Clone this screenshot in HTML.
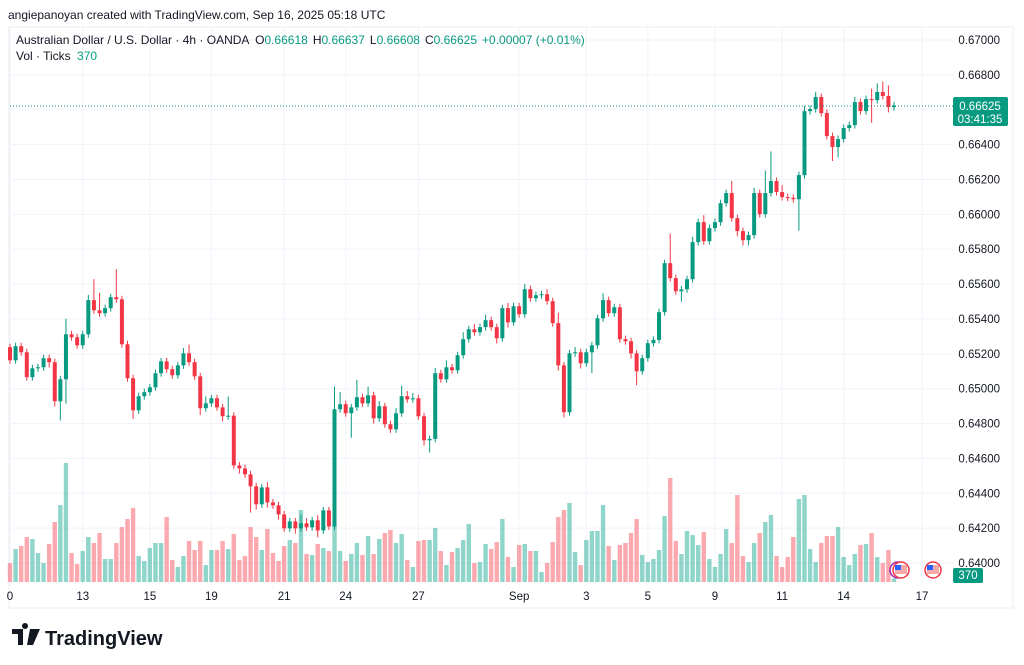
<!DOCTYPE html>
<html><head><meta charset="utf-8">
<style>
body{margin:0;background:#fff;width:1024px;height:665px;overflow:hidden;font-family:"Liberation Sans",sans-serif;}
svg{display:block}
text{font-family:"Liberation Sans",sans-serif}
</style></head>
<body>
<svg id="chart" width="1024" height="665" viewBox="0 0 1024 665">
  <text x="8" y="19" font-size="12" fill="#131722">angiepanoyan created with TradingView.com, Sep 16, 2025 05:18 UTC</text>
  <rect x="9" y="27" width="1004" height="581" fill="none" stroke="#e9ecf2" stroke-width="1"/>
  <g id="grid"></g>
  <g id="vol"></g>
  <g id="candles"></g>
  <line x1="10" x2="953" y1="106" y2="106" stroke="#089981" stroke-dasharray="1,2" stroke-width="1"/>
  <g id="yaxis"></g>
  <g id="xaxis"></g>
  <text x="16" y="44" font-size="12" fill="#131722">Australian Dollar / U.S. Dollar · 4h · OANDA <tspan dx="3">O</tspan><tspan fill="#089981">0.66618</tspan><tspan dx="5">H</tspan><tspan fill="#089981">0.66637</tspan><tspan dx="5">L</tspan><tspan fill="#089981">0.66608</tspan><tspan dx="5">C</tspan><tspan fill="#089981">0.66625</tspan><tspan dx="5" fill="#089981">+0.00007 (+0.01%)</tspan></text>
  <text x="16" y="60" font-size="12" fill="#131722">Vol · Ticks <tspan dx="3" fill="#089981">370</tspan></text>
  <g>
    <rect x="953" y="97" width="55" height="29" rx="2" fill="#089981"/>
    <text x="980" y="110" font-size="11.5" fill="#fff" text-anchor="middle">0.66625</text>
    <text x="980" y="123" font-size="11.5" fill="#fff" text-anchor="middle">03:41:35</text>
  </g>
  <g>
    <rect x="953" y="568" width="30" height="15" rx="2" fill="#089981"/>
    <text x="968" y="579" font-size="11.5" fill="#fff" text-anchor="middle">370</text>
  </g>
  <g>
    <circle cx="898" cy="570" r="8" fill="#fff" stroke="#9c27b0" stroke-width="1.5"/>
    <circle cx="901" cy="570" r="8" fill="#fff" stroke="#f23645" stroke-width="1.5"/>
    <rect x="895" y="565" width="12" height="9" fill="#f7a9a7"/><rect x="895" y="565" width="6" height="5" fill="#2962ff"/>
  </g>
  <g>
    <circle cx="933" cy="570" r="8" fill="#fff" stroke="#f23645" stroke-width="1.5"/>
    <rect x="927" y="565" width="12" height="9" fill="#f7a9a7"/><rect x="927" y="565" width="6" height="5" fill="#2962ff"/>
  </g>
  <g>
    <path d="M12 629h11v16h-5v-11h-6z M25 629a3 3 0 1 1 0.01 0z M30 629h10l-7 16h-6z" fill="#131722"/>
    <text x="45" y="645" font-size="20" font-weight="bold" fill="#131722">TradingView</text>
  </g>
</svg>
<script>
const priceTicks = [0.67,0.668,0.666,0.664,0.662,0.66,0.658,0.656,0.654,0.652,0.65,0.648,0.646,0.644,0.642,0.64];
const dateLabels = ["0","13","15","19","21","24","27","Sep","3","5","9","11","14","17"];
const dateIdx = [0,13,25,36,49,60,73,91,103,114,126,138,149,163];
const firstOpen = 0.65238;
const closes = [0.65163,0.65244,0.65209,0.65066,0.65117,0.65123,0.65175,0.65152,0.64928,0.65054,
0.65312,0.65295,0.65249,0.65312,0.65508,0.65450,0.65433,0.65462,0.65525,0.65513,
0.65255,0.65060,0.64876,0.64957,0.64980,0.65008,0.65089,0.65157,0.65112,0.65077,
0.65134,0.65203,0.65152,0.65071,0.64888,0.64916,0.64945,0.64893,0.64842,0.64845,
0.64560,0.64543,0.64509,0.64440,0.64337,0.64434,0.64348,0.64331,0.64279,0.64199,
0.64239,0.64199,0.64228,0.64205,0.64245,0.64187,0.64302,0.64210,0.64882,0.64911,
0.64859,0.64893,0.64951,0.64916,0.64962,0.64830,0.64899,0.64796,0.64767,0.64859,
0.64957,0.64939,0.64945,0.64842,0.64704,0.64712,0.65089,0.65054,0.65123,0.65106,
0.65192,0.65284,0.65341,0.65324,0.65353,0.65393,0.65353,0.65289,0.65462,0.65381,
0.65473,0.65427,0.65571,0.65519,0.65536,0.65542,0.65502,0.65376,0.65134,0.64865,
0.65203,0.65209,0.65146,0.65209,0.65249,0.65404,0.65508,0.65433,0.65467,0.65284,
0.65272,0.65203,0.65100,0.65175,0.65261,0.65280,0.65439,0.65720,0.65634,0.65559,
0.65570,0.65628,0.65841,0.65955,0.65846,0.65921,0.65955,0.66064,0.66122,0.65978,
0.65904,0.65852,0.65881,0.66122,0.66001,0.66122,0.66191,0.66128,0.66099,0.66095,
0.66087,0.66225,0.66592,0.66604,0.66673,0.66581,0.66449,0.66386,0.66432,0.66495,
0.66512,0.66644,0.66592,0.66661,0.66655,0.66702,0.66679,0.66615,0.66625];
// wick lengths in pips (0.0001)
const upWick = [2,2,2,2,2,2,2,2,2,2, 9,2,2,2,3,12,10,2,2,16, 2,2,2,2,2,2,2,2,2,2, 2,3,5,2,2,4,2,2,2,11, 2,2,2,2,2,2,3,2,2,2, 2,2,5,3,2,3,2,2,13,7, 2,2,10,2,5,2,3,2,2,3, 6,3,3,2,2,2,3,2,4,2, 2,4,2,3,2,3,2,2,2,3, 2,2,3,2,2,2,3,2,6,2, 2,3,2,2,2,2,4,2,2,2, 2,2,2,2,2,2,2,2,17,2, 2,2,3,2,4,2,2,2,2,7, 2,2,2,3,2,13,17,2,4,2, 2,2,3,2,3,2,2,2,2,2, 2,3,2,2,6,5,6,6,2];
const dnWick = [2,2,2,2,2,2,2,3,3,11, 14,2,2,2,2,2,2,2,2,2, 2,2,5,2,2,2,2,2,2,2, 2,2,2,2,4,2,2,2,3,2, 2,3,2,15,3,2,3,2,3,2, 2,3,2,2,2,4,2,2,2,2, 2,14,2,2,2,3,2,2,2,2, 2,2,2,2,3,7,2,2,2,2, 2,2,2,2,2,2,2,3,2,3, 2,2,2,2,2,2,2,2,3,3, 2,2,3,2,12,2,2,2,2,2, 2,3,8,2,2,2,2,2,2,2, 6,2,2,2,2,2,2,2,2,2, 3,3,3,2,2,2,2,2,2,2, 2,18,2,2,2,2,2,8,6,2, 2,2,2,2,13,2,2,3,2];
const volumes = [1900,3300,3600,4500,4300,2900,1900,3800,6000,7700,
11900,2900,1800,3100,4500,3900,4900,2300,2300,3900,
5500,6300,7400,2600,2100,3400,3900,3900,6500,2200,
1500,2600,4100,3200,4100,1700,3200,3200,4100,3300,
4800,2200,2600,5500,4500,3200,5300,2900,2100,3600,
4200,3900,7200,2800,2700,3800,3400,3100,5700,3100,
2100,2800,3900,2700,4600,2800,4300,4900,5200,3900,
4800,2200,1500,4100,4200,4200,5400,3100,1700,3000,
3400,4200,5800,1900,2000,3800,3300,4000,6300,2500,
1500,3700,3800,3100,3100,1000,1900,4000,6500,7200,
7900,3000,1700,4200,5100,5100,7700,3600,2200,3700,
3900,4900,6300,2700,2000,2300,3200,6600,10400,4100,
2800,5100,4700,3700,5000,2300,1500,2800,5300,3900,
8700,2600,2000,3900,4900,6000,6700,2600,1500,2500,
4500,8300,8700,3300,2000,3900,4600,4600,5500,2500,
1700,2800,3700,3800,4900,2500,1900,3200,370];

const NS = "http://www.w3.org/2000/svg";
const X0 = 10, STEP = 5.595;
function xScale(i){ return X0 + i*STEP; }
function yScale(p){ return 40 + (0.67 - p) / 0.002 * 34.87; }
const VOL_BASE = 582;
function vScale(v){ return VOL_BASE - v/100; }
function mk(tag, attrs, parent){ const e=document.createElementNS(NS,tag); for(const k in attrs) e.setAttribute(k,attrs[k]); parent.appendChild(e); return e; }

const grid=document.getElementById('grid'), yax=document.getElementById('yaxis'), xax=document.getElementById('xaxis');
priceTicks.forEach(p=>{
  const y=yScale(p);
  const l=mk('line',{x1:9,x2:953,y1:y,y2:y,stroke:'#f0f3fa','stroke-width':1},grid);
  
  
  const t=mk('text',{x:1000,y:y+4,'font-size':11.5,fill:'#131722','text-anchor':'end'},yax);
  t.textContent=p.toFixed(5);
  
  
});
dateLabels.forEach((d,k)=>{
  const x=xScale(dateIdx[k]);
  const l=mk('line',{x1:x,x2:x,y1:27,y2:585,stroke:'#f0f3fa','stroke-width':1},grid);
  
  
  const t=mk('text',{x:x,y:600,'font-size':11.5,fill:'#131722','text-anchor':'middle'},xax);
  t.textContent=d;
  
  
});

const cg=document.getElementById('candles'), vg=document.getElementById('vol');
let prev=firstOpen;
closes.forEach((c,i)=>{
  const o=prev; prev=c;
  const up=c>=o;
  const col=up?'#089981':'#f23645';
  const x=xScale(i);
  const hi=Math.max(o,c)+upWick[i]*0.0001, lo=Math.min(o,c)-dnWick[i]*0.0001;
  const v=mk('rect',{x:x-2.2,y:vScale(volumes[i]),width:4.4,height:VOL_BASE-vScale(volumes[i]),fill:up?'rgba(34,171,148,0.5)':'rgba(247,82,95,0.5)'},vg);
  
  
  const w=mk('line',{x1:x,x2:x,y1:yScale(hi),y2:yScale(lo),stroke:col,'stroke-width':1},cg);
  
  
  const yt=yScale(Math.max(o,c)), yb=yScale(Math.min(o,c));
  const b=mk('rect',{x:x-2,y:yt,width:4,height:Math.max(1,yb-yt),fill:col},cg);
  
  
});
</script>
</body></html>
